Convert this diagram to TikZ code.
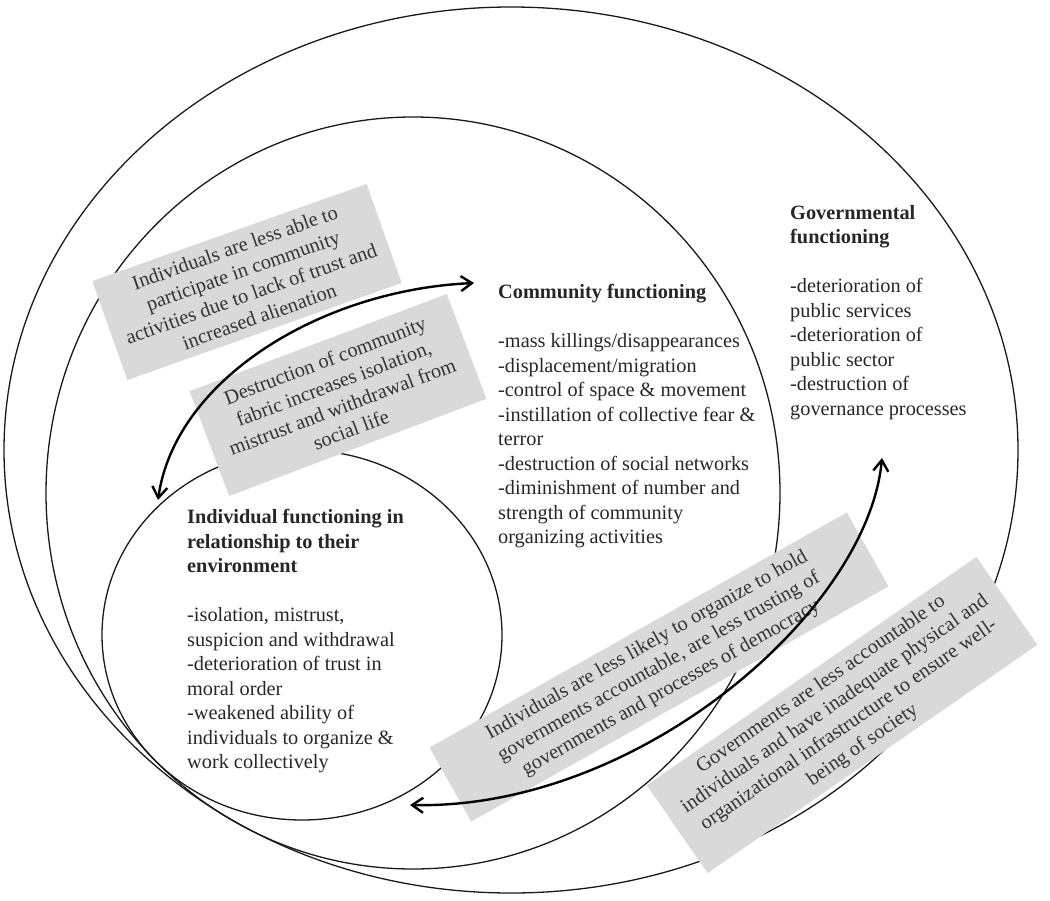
\documentclass[tikz,border=0pt]{standalone}
\usepackage{fontspec}
\setmainfont{Liberation Serif}
\usetikzlibrary{positioning,arrows.meta}
\tikzset{
	ring/.style={draw=black!90, line width=1.3pt},
	effect/.style={fill=gray!30, text=black!80, align=center, inner sep=0pt, font=\fontsize{20.3}{24.5}\selectfont},
	listing/.style={anchor=north west, align=left, inner sep=0pt, text=black!85, font=\fontsize{20.3}{24.5}\selectfont},
	link/.style={line width=2.4pt, {Straight Barb[length=11pt,width=15pt]}-{Straight Barb[length=11pt,width=15pt]}}
}

\begin{document}
\begin{tikzpicture}[x=1pt, y=-1pt]
	\useasboundingbox (0,0) rectangle (1050,900);
	
	% nested levels
	\draw [ring] (511,450) ellipse [x radius=507, y radius=443];
	\draw [ring] (413,493) ellipse [x radius=367, y radius=376];
	\draw [ring] (302,635) ellipse [x radius=200, y radius=185];
	
	% effects between levels
	\node [effect, rotate=19.5, minimum width=291pt, minimum height=105pt] (lessable) at (247,282)
	{Individuals are less able to\\participate in community\\activities due to lack of trust and\\increased alienation};
	\node [effect, rotate=20.7, minimum width=275pt, minimum height=112pt] (fabric) at (338,395)
	{Destruction of community\\fabric increases isolation,\\mistrust and withdrawal from\\social life};
	\node [effect, rotate=29.4, minimum width=479pt, minimum height=85pt] (lesslikely) at (659,667)
	{Individuals are less likely to organize to hold\\governments accountable, are less trusting of\\governments and processes of democracy};
	\node [effect, rotate=34.7, minimum width=401pt, minimum height=107pt] (accountable) at (842,715)
	{Governments are less accountable to\\individuals and have inadequate physical and\\organizational infrastructure to ensure well-\\being of society};
	
	% level descriptions
	\node [listing] (community) at (498,284)
	{\textbf{Community functioning}\\[24.5pt]
	-mass killings/disappearances\\
	-displacement/migration\\
	-control of space \& movement\\
	-instillation of collective fear \&\\
	terror\\
	-destruction of social networks\\
	-diminishment of number and\\
	strength of community\\
	organizing activities};
	\node [listing] (government) at (790,205)
	{\textbf{Governmental}\\
	\textbf{functioning}\\[24.5pt]
	-deterioration of\\
	public services\\
	-deterioration of\\
	public sector\\
	-destruction of\\
	governance processes};
	\node [listing] (individual) at (187,509)
	{\textbf{Individual functioning in}\\
	\textbf{relationship to their}\\
	\textbf{environment}\\[24.5pt]
	-isolation, mistrust,\\
	suspicion and withdrawal\\
	-deterioration of trust in\\
	moral order\\
	-weakened ability of\\
	individuals to organize \&\\
	work collectively};
	
	% two-way influences
	\coordinate (indtop) at (158,500);
	\coordinate (comleft) at (474,283);
	\coordinate (indright) at (410,805);
	\coordinate (govbelow) at (882,458);
	\draw [link] (indtop) .. controls (175,380) and (320,290) .. (comleft);
	\draw [link] (indright) .. controls (640,810) and (868,610) .. (govbelow);
\end{tikzpicture}
\end{document}
